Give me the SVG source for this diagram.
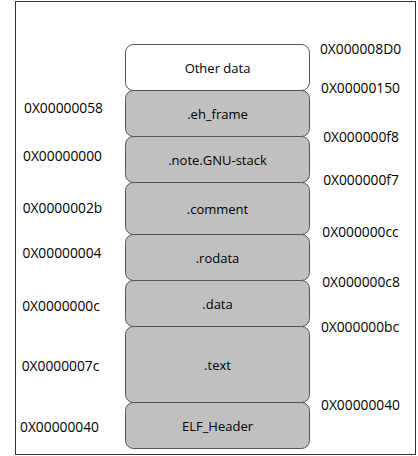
<svg xmlns="http://www.w3.org/2000/svg" width="418" height="456" viewBox="0 0 418 456">
<style>
.box{fill:#c0c0c0;stroke:#555;stroke-width:1}
.top{fill:#fff;stroke:#555;stroke-width:1}
text{font-family:"Open Sans","Noto Sans","DejaVu Sans",sans-serif;font-size:13px;fill:#000}
.c{text-anchor:middle;dominant-baseline:central}
.r{text-anchor:middle;dominant-baseline:central;font-size:13.8px}
.l{text-anchor:middle;dominant-baseline:central;font-size:13.8px}
</style>
<rect x="15.5" y="1.5" width="400" height="453" fill="#fff" stroke="#333" stroke-width="1"/>
<g id="connectors"></g>
<g id="other"><rect class="top" x="125.5" y="44.5" width="184" height="46" rx="8"/><text class="c" x="217.5" y="68">Other data</text></g>
<g id="eh_frame"><rect class="box" x="125.5" y="90.5" width="184" height="46" rx="8"/><text class="c" x="217.5" y="114">.eh_frame</text></g>
<g id="note"><rect class="box" x="125.5" y="136.5" width="184" height="46" rx="8"/><text class="c" x="217.5" y="160">.note.GNU-stack</text></g>
<g id="comment"><rect class="box" x="125.5" y="182.5" width="184" height="52" rx="8"/><text class="c" x="217.5" y="209">.comment</text></g>
<g id="rodata"><rect class="box" x="125.5" y="234.5" width="184" height="46" rx="8"/><text class="c" x="217.5" y="258">.rodata</text></g>
<g id="data"><rect class="box" x="125.5" y="280.5" width="184" height="46" rx="8"/><text class="c" x="217.5" y="304">.data</text></g>
<g id="text"><rect class="box" x="125.5" y="326.5" width="184" height="76" rx="8"/><text class="c" x="217.5" y="365">.text</text></g>
<g id="elf"><rect class="box" x="125.5" y="402.5" width="184" height="46" rx="8"/><text class="c" x="217.5" y="426">ELF_Header</text></g>
<g id="left-labels">
<text class="l" x="63.5" y="107">0X00000058</text>
<text class="l" x="62.5" y="155">0X00000000</text>
<text class="l" x="62.5" y="207">0X0000002b</text>
<text class="l" x="62" y="252">0X00000004</text>
<text class="l" x="61" y="305">0X0000000c</text>
<text class="l" x="60.5" y="365">0X0000007c</text>
<text class="l" x="59.5" y="426">0X00000040</text>
</g>
<g id="right-labels">
<text class="r" x="360.5" y="48">0X000008D0</text>
<text class="r" x="360.5" y="87">0X00000150</text>
<text class="r" x="361" y="136">0X000000f8</text>
<text class="r" x="361" y="179">0X000000f7</text>
<text class="r" x="360.5" y="231">0X000000cc</text>
<text class="r" x="361" y="281">0X000000c8</text>
<text class="r" x="360" y="326">0X000000bc</text>
<text class="r" x="360.5" y="404">0X00000040</text>
</g>
</svg>
